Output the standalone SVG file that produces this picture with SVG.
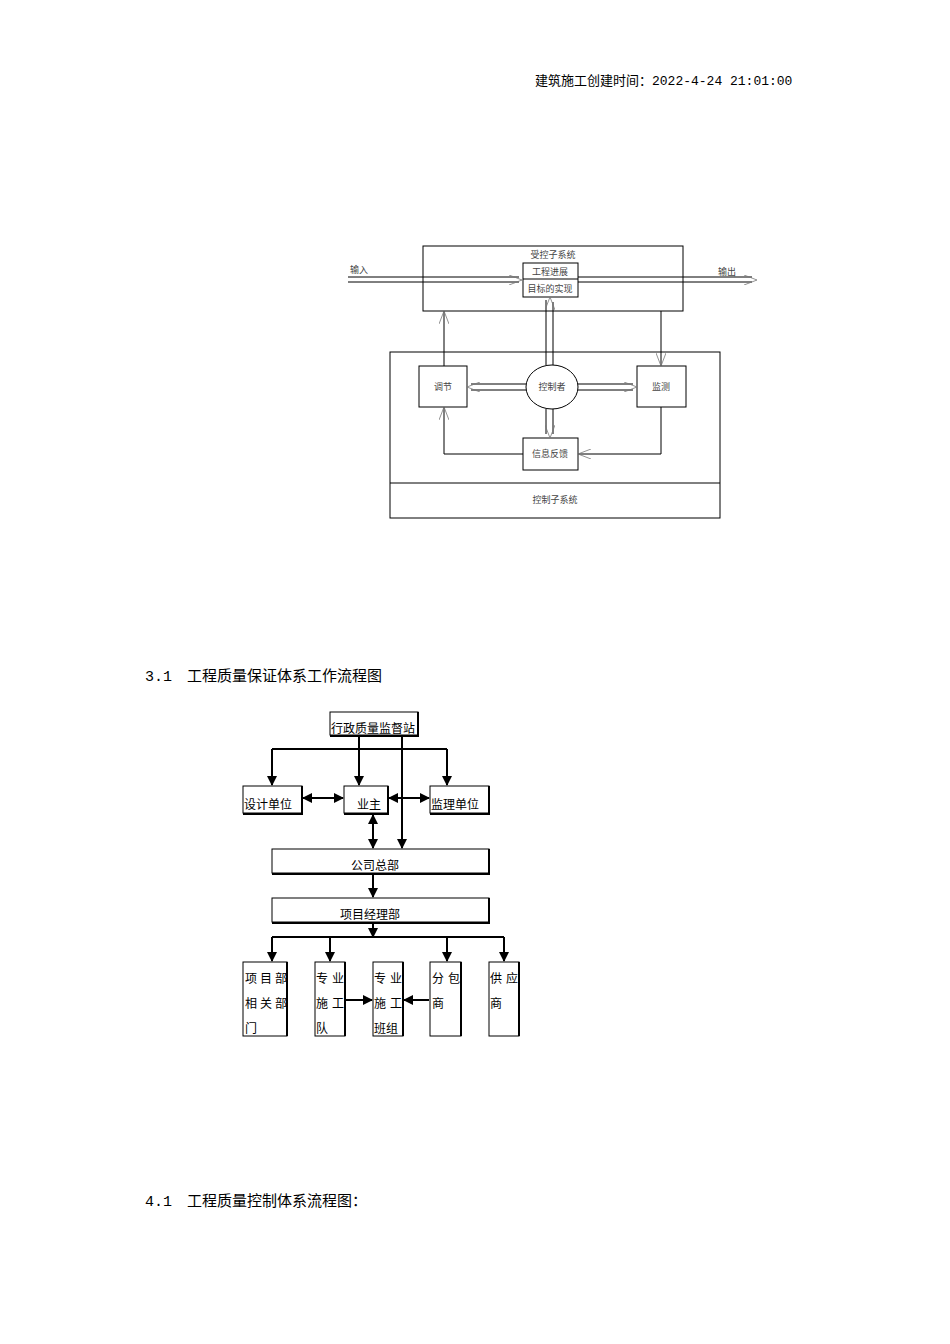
<svg xmlns="http://www.w3.org/2000/svg" width="950" height="1344" viewBox="0 0 950 1344">
<style>
text{font-family:"Liberation Serif","Noto Sans CJK SC",serif;fill:#000}
.h{font-family:"Liberation Mono","Noto Sans CJK SC",monospace}
.b{fill:#fff;stroke:#000;stroke-width:1}
.l{fill:none;stroke:#000;stroke-width:1}
.t2{fill:none;stroke:#000;stroke-width:2}
.s{font-size:9px;fill:#444}
.m{font-size:12px}
</style>
<defs>
<marker id="o" markerWidth="14" markerHeight="10" refX="13" refY="5" orient="auto" markerUnits="userSpaceOnUse"><path d="M0,0 L13,5 L0,10" fill="none" stroke="#777" stroke-width="0.8"/></marker>
<marker id="f" markerWidth="10" markerHeight="10" refX="9" refY="5" orient="auto-start-reverse" markerUnits="userSpaceOnUse"><path d="M0,0 L10,5 L0,10 Z" fill="#000"/></marker>
</defs>
<rect width="950" height="1344" fill="#fff"/>
<text class="h" x="535" y="85" font-size="13">建筑施工创建时间：2022-4-24 21:01:00</text>
<text class="h" x="145" y="681" font-size="15">3.1　工程质量保证体系工作流程图</text>
<text class="h" x="145" y="1206" font-size="15">4.1　工程质量控制体系流程图：</text>

<g id="top-system"><rect class="b" x="423" y="246" width="260" height="65"/><text class="s" x="553" y="258" text-anchor="middle">受控子系统</text></g>
<g id="progress"><rect class="b" x="523" y="263" width="55" height="34"/><line class="l" x1="523" y1="279" x2="578" y2="279"/><text class="s" x="550" y="275" text-anchor="middle">工程进展</text><text class="s" x="550" y="292" text-anchor="middle">目标的实现</text></g>
<g id="ctrl-system"><rect class="b" x="390" y="352" width="330" height="166"/><line class="l" x1="390" y1="483" x2="720" y2="483"/><text class="s" x="555" y="503" text-anchor="middle">控制子系统</text></g>
<g id="adjust"><rect class="b" x="419" y="366" width="48" height="41"/><text class="s" x="443" y="390" text-anchor="middle">调节</text></g>
<g id="monitor"><rect class="b" x="637" y="366" width="49" height="41"/><text class="s" x="661" y="390" text-anchor="middle">监测</text></g>
<g id="feedback"><rect class="b" x="523" y="438" width="55" height="32"/><text class="s" x="550" y="457" text-anchor="middle">信息反馈</text></g>
<g id="controller"><ellipse class="b" cx="552" cy="387" rx="26" ry="22"/><text class="s" x="552" y="390" text-anchor="middle">控制者</text></g>
<g id="labels1"><text class="s" x="350" y="273">输入</text><text class="s" x="718" y="275">输出</text></g>

<g id="connectors1" class="l">
<line x1="348" y1="277" x2="519" y2="277"/><line x1="348" y1="282" x2="519" y2="282"/><path d="M348,280 L522,280" marker-end="url(#o)" stroke="none"/>
<line x1="578" y1="277" x2="752" y2="277"/><line x1="578" y1="282" x2="752" y2="282"/><path d="M578,280 L757,280" marker-end="url(#o)" stroke="none"/>
<line x1="546" y1="365" x2="546" y2="300"/><line x1="553" y1="365" x2="553" y2="302"/><path d="M550,365 L550,297" marker-end="url(#o)" stroke="none"/>
<line x1="546" y1="409" x2="546" y2="434"/><line x1="553" y1="409" x2="553" y2="434"/><path d="M550,409 L550,438" marker-end="url(#o)" stroke="none"/>
<line x1="526" y1="384" x2="471" y2="384"/><line x1="526" y1="390" x2="471" y2="390"/><path d="M526,387 L467,387" marker-end="url(#o)" stroke="none"/>
<line x1="578" y1="384" x2="633" y2="384"/><line x1="578" y1="390" x2="633" y2="390"/><path d="M578,387 L637,387" marker-end="url(#o)" stroke="none"/>
<path d="M444,366 L444,311" marker-end="url(#o)"/>
<path d="M661,311 L661,366" marker-end="url(#o)"/>
<path d="M661,407 L661,454 L578,454" marker-end="url(#o)"/>
<path d="M523,454 L444,454 L444,407" marker-end="url(#o)"/>
</g>

<g id="supervision"><rect class="b" x="330" y="712" width="88" height="23"/><path class="t2" d="M418,712 L418,736 L330,736"/><text class="m" x="331" y="733">行政质量监督站</text></g>
<g id="design"><rect class="b" x="243" y="786" width="59" height="27"/><path class="t2" d="M302,786 L302,814 L243,814"/><text class="m" x="244" y="809">设计单位</text></g>
<g id="owner"><rect class="b" x="344" y="786" width="44" height="27"/><path class="t2" d="M388,786 L388,814 L344,814"/><text class="m" x="357" y="809">业主</text></g>
<g id="supervisor"><rect class="b" x="430" y="786" width="59" height="27"/><path class="t2" d="M489,786 L489,814 L430,814"/><text class="m" x="431" y="809">监理单位</text></g>
<g id="hq"><rect class="b" x="272" y="849" width="217" height="24"/><path class="t2" d="M489,849 L489,874 L272,874"/><text class="m" x="351" y="870">公司总部</text></g>
<g id="pm"><rect class="b" x="272" y="898" width="217" height="24"/><path class="t2" d="M489,898 L489,923 L272,923"/><text class="m" x="340" y="919">项目经理部</text></g>
<g id="b1"><rect class="b" x="243" y="962" width="44" height="74"/><path class="t2" d="M287,962 L287,1036"/><text class="m" x="245" y="983" font-size="11" letter-spacing="3">项目部</text><text class="m" x="245" y="1008" font-size="11" letter-spacing="3">相关部</text><text class="m" x="245" y="1033" font-size="11">门</text></g>
<g id="b2"><rect class="b" x="315" y="962" width="30" height="74"/><path class="t2" d="M345,962 L345,1036"/><text class="m" x="316" y="983" font-size="11" letter-spacing="4">专业</text><text class="m" x="316" y="1008" font-size="11" letter-spacing="4">施工</text><text class="m" x="316" y="1033" font-size="11">队</text></g>
<g id="b3"><rect class="b" x="373" y="962" width="30" height="74"/><path class="t2" d="M403,962 L403,1036"/><text class="m" x="374" y="983" font-size="11" letter-spacing="4">专业</text><text class="m" x="374" y="1008" font-size="11" letter-spacing="4">施工</text><text class="m" x="374" y="1033" font-size="11">班组</text></g>
<g id="b4"><rect class="b" x="430" y="962" width="31" height="74"/><path class="t2" d="M461,962 L461,1036"/><text class="m" x="432" y="983" font-size="11" letter-spacing="4">分包</text><text class="m" x="432" y="1008" font-size="11">商</text></g>
<g id="b5"><rect class="b" x="489" y="962" width="30" height="74"/><path class="t2" d="M519,962 L519,1036"/><text class="m" x="490" y="983" font-size="11" letter-spacing="4">供应</text><text class="m" x="490" y="1008" font-size="11">商</text></g>

<g id="connectors2" class="t2">
<path d="M272,749 L447,749"/>
<path d="M272,749 L272,785" marker-end="url(#f)"/>
<path d="M359,735 L359,785" marker-end="url(#f)"/>
<path d="M447,749 L447,785" marker-end="url(#f)"/>
<path d="M402,736 L402,848" marker-end="url(#f)"/>
<path d="M303,798 L343,798" marker-start="url(#f)" marker-end="url(#f)"/>
<path d="M389,798 L429,798" marker-start="url(#f)" marker-end="url(#f)"/>
<path d="M373,815 L373,848" marker-start="url(#f)" marker-end="url(#f)"/>
<path d="M373,874 L373,897" marker-end="url(#f)"/>
<path d="M373,923 L373,937" marker-end="url(#f)"/>
<path d="M272,937 L504,937"/>
<path d="M272,937 L272,961" marker-end="url(#f)"/>
<path d="M330,937 L330,961" marker-end="url(#f)"/>
<path d="M447,937 L447,961" marker-end="url(#f)"/>
<path d="M504,937 L504,961" marker-end="url(#f)"/>
<path d="M346,1000 L372,1000" marker-end="url(#f)"/>
<path d="M429,1000 L404,1000" marker-end="url(#f)"/>
</g>
</svg>
